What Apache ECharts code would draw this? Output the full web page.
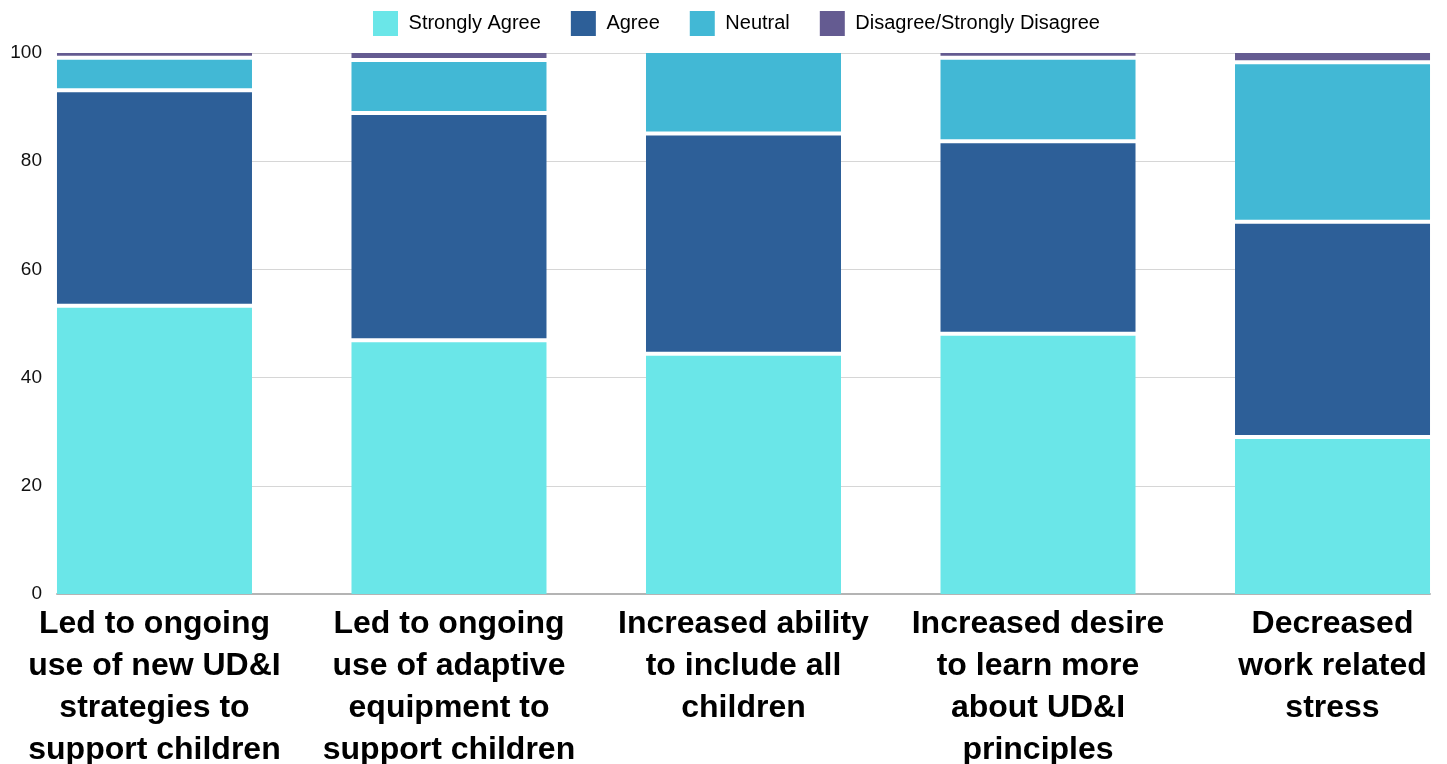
<!DOCTYPE html>
<html>
<head>
<meta charset="utf-8">
<script src="https://cdn.jsdelivr.net/npm/echarts@6/dist/echarts.min.js"></script>
<style>
    html, body { margin: 0; padding: 0; background: #fff; }
    #chart { width: 1447px; height: 764px; }
</style>
</head>
<body>
<div id="chart"></div>
<script>
    // categories, wrapped as in the picture
    var categories = [
        'Led to ongoing\nuse of new UD&I\nstrategies to\nsupport children',
        'Led to ongoing\nuse of adaptive\nequipment to\nsupport children',
        'Increased ability\nto include all\nchildren',
        'Increased desire\nto learn more\nabout UD&I\nprinciples',
        'Decreased\nwork related\nstress'
    ];
    var seriesNames = ['Strongly Agree', 'Agree', 'Neutral', 'Disagree/Strongly Disagree'];
    var stronglyAgree = [53.3, 46.9, 44.4, 48.1, 29.0];
    var agree = [39.8, 42.0, 40.7, 35.6, 39.8];
    var neutral = [6.0, 9.8, 14.9, 15.4, 29.5];
    var disagree = [0.9, 1.3, 0, 0.9, 1.7];
    var yTicks = [0, 20, 40, 60, 80, 100];

    var colors = ['#6ae6e8', '#2d5f98', '#42b8d5', '#645b91'];
    var font = '"Liberation Sans", Arial, Helvetica, sans-serif';
    var allValues = [stronglyAgree, agree, neutral, disagree];

    // stacked segments: [category index, start, end]
    var base = categories.map(function () { return 0; });
    var segments = allValues.map(function (arr) {
        return arr.map(function (v, i) {
            var s = base[i];
            base[i] += v;
            return [i, s, base[i]];
        });
    });

    var BAR_RATIO = 195 / 294.5;  // bar width / category step
    var GAP = 2;                  // white gap on each inner side of a segment

    function renderSegment(params, api) {
        var i = api.value(0), lo = api.value(1), hi = api.value(2);
        if (hi - lo <= 0) return null;
        var top = api.coord([i, hi]);
        var bottom = api.coord([i, lo]);
        var w = api.size([1, 0])[0] * BAR_RATIO;
        var y0 = top[1] + (hi < 99.95 ? GAP : 0);
        var y1 = bottom[1] - (lo > 0.05 ? GAP : 0);
        return {
            type: 'rect',
            shape: { x: top[0] - w / 2, y: y0, width: w, height: Math.max(y1 - y0, 0) },
            style: { fill: api.visual('color') }
        };
    }

    var chart = echarts.init(document.getElementById('chart'));
    chart.setOption({
        animation: false,
        color: colors,
        legend: {
            left: 368,
            top: 6,
            itemWidth: 25,
            itemHeight: 25,
            itemGap: 30,
            icon: 'rect',
            data: seriesNames,
            formatter: function (name) { return ' ' + name; },
            textStyle: { fontFamily: font, fontSize: 20, color: '#000' }
        },
        grid: { left: 57, right: 17, top: 53, bottom: 170, outerBoundsMode: 'none' },
        xAxis: {
            type: 'value',
            min: -0.331,
            max: 4.331,
            splitLine: { show: false },
            axisTick: { show: false },
            axisLine: { show: true, lineStyle: { color: '#b4b4b4', width: 2 } },
            axisLabel: {
                customValues: [0, 1, 2, 3, 4],
                formatter: function (v) { return categories[Math.round(v)]; },
                margin: 9,
                fontFamily: font,
                fontWeight: 'bold',
                fontSize: 32,
                lineHeight: 42,
                color: '#000'
            }
        },
        yAxis: {
            type: 'value',
            min: 0,
            max: 100,
            interval: 20,
            axisLine: { show: false },
            axisTick: { show: false },
            splitLine: { lineStyle: { color: '#d6d6d6', width: 1 } },
            axisLabel: {
                margin: 15,
                fontFamily: font,
                fontSize: 19,
                color: '#111',
                customValues: yTicks
            }
        },
        series: seriesNames.map(function (name, k) {
            return {
                name: name,
                type: 'custom',
                itemStyle: { color: colors[k] },
                encode: { x: 0, y: [1, 2] },
                renderItem: renderSegment,
                data: segments[k]
            };
        })
    });
</script>
</body>
</html>
